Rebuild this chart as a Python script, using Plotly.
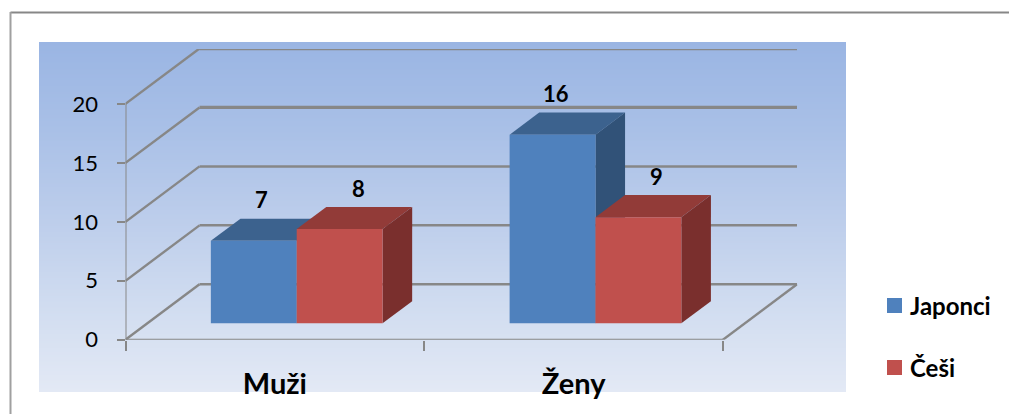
import plotly.graph_objects as go

# ---- data ----
categories = ["Muži", "Ženy"]
series_names = ["Japonci", "Češi"]
japonci = [7, 16]
cesi = [8, 9]
value_ticks = [0, 5, 10, 15, 20]
label_xshift = [[8, 3], [19, 18]]

# ---- style ----
W, H = 1009, 414
front = ["#4F81BD", "#C0504D"]
top = ["#3C628E", "#923B38"]
side = ["#315278", "#7A2F2D"]
GRID = "#878787"
FONT = "Lato, Carlito, sans-serif"
wall_width = {0: 2.5, 5: 2.5, 10: 2.5, 15: 3.2, 20: 3.6}

# geometry of the oblique projection, in axis units
PX_LEFT, PX_RIGHT, PX_BOTTOM, PX_TOP = 125.5, 797.5, 339.7, 49.0
PX_PER_CAT, PX_PER_VAL = 298.75, 11.79
DEPTH_X = 74 / PX_PER_CAT
DEPTH_Y = 55.4 / PX_PER_VAL
BAR_W = 85.85 / PX_PER_CAT
Z0, Z1 = 0.295, 0.695


def proj(x, v, z):
    return x + z * DEPTH_X, v + z * DEPTH_Y


fig = go.Figure()

# background gradient (first subplot, so it stays beneath everything)
rows = list(range(350))
fig.add_trace(go.Heatmap(
    x=[0, 1], y=rows, z=[[r, r] for r in rows], xaxis="x", yaxis="y",
    showscale=False, hoverinfo="skip", zmin=0, zmax=349,
    colorscale=[[0, "#E3E9F5"], [0.25, "#D0DCF0"], [0.5, "#BCCDEB"], [0.75, "#A9C0E7"], [1, "#9AB5E3"]],
))


def line(xs, ys, width):
    fig.add_trace(go.Scatter(x=xs, y=ys, mode="lines", xaxis="x2", yaxis="y2", showlegend=False,
                             hoverinfo="skip", zorder=0, line=dict(color=GRID, width=width)))


n_cat = len(categories)
for v in value_ticks:
    x0, y0 = proj(0, v, 0)
    x1, y1 = proj(0, v, 1)
    x2, y2 = proj(n_cat, v, 1)
    line([x0, x1], [y0, y1], 2.4)
    line([x1, x2], [y1, y2], wall_width[v])
# axis lines and the floor's right edge
line([0, 0], [0, value_ticks[-1]], 2)
line([0, n_cat], [0, 0], 2)
xa, ya = proj(n_cat, 0, 0)
xb, yb = proj(n_cat, 0, 1)
line([xa, xb], [ya, yb], 2.4)

# bars
base = Z0 * DEPTH_Y
annotations = []
for s, (name, vals) in enumerate(zip(series_names, [japonci, cesi])):
    xs = [c + 0.5 + Z0 * DEPTH_X + (s - 1) * BAR_W + BAR_W / 2 for c in range(n_cat)]
    for c, v in enumerate(vals):
        l, r = xs[c] - BAR_W / 2, xs[c] + BAR_W / 2
        dx = (Z1 - Z0) * DEPTH_X
        dy = (Z1 - Z0) * DEPTH_Y
        t = base + v
        fig.add_trace(go.Scatter(
            x=[l, r, r + dx, l + dx, l], y=[t, t, t + dy, t + dy, t], fill="toself", mode="lines",
            line=dict(width=0, color=top[s]), fillcolor=top[s], xaxis="x2", yaxis="y2",
            showlegend=False, hoverinfo="skip", zorder=s + 1))
        fig.add_trace(go.Scatter(
            x=[r, r + dx, r + dx, r, r], y=[base, base + dy, t + dy, t, base], fill="toself", mode="lines",
            line=dict(width=0, color=side[s]), fillcolor=side[s], xaxis="x2", yaxis="y2",
            showlegend=False, hoverinfo="skip", zorder=s + 1))
        annotations.append(dict(
            x=xs[c], y=t, xref="x2", yref="y2", text=f"<b>{v}</b>", showarrow=False,
            xshift=label_xshift[s][c], yshift=41, font=dict(family=FONT, size=22, color="black"),
            xanchor="center", yanchor="middle"))
    fig.add_trace(go.Bar(
        x=xs, y=vals, base=[base] * n_cat, width=BAR_W, name=name, marker=dict(color=front[s], line=dict(width=0)),
        xaxis="x2", yaxis="y2", showlegend=False, zorder=3))

# hand-placed legend (swatch and label spacing of the reference)
shapes = []
for s, (name, cy) in enumerate(zip(series_names, [305.5, 367.5])):
    shapes.append(dict(type="rect", xref="paper", yref="paper", x0=887 / W, x1=902 / W,
                       y0=1 - (cy - 7.5) / H, y1=1 - (cy + 7.5) / H, fillcolor=front[s], line=dict(width=0)))
    annotations.append(dict(x=908 / W, y=1 - cy / H, xref="paper", yref="paper", text=f"<b>{name}</b>",
                            showarrow=False, xanchor="left", yanchor="middle",
                            font=dict(family=FONT, size=24, color="black")))

# outer frame
shapes.append(dict(type="line", xref="paper", yref="paper", x0=10.5 / W, x1=1, y0=1 - 12.5 / H, y1=1 - 12.5 / H,
                   line=dict(color="#878787", width=2)))
shapes.append(dict(type="line", xref="paper", yref="paper", x0=10.5 / W, x1=10.5 / W, y0=1 - 12 / H, y1=0,
                   line=dict(color="#A0A0A0", width=2)))

fig.update_layout(
    width=W, height=H, autosize=False, margin=dict(l=0, r=0, t=0, b=0, pad=0),
    paper_bgcolor="white", plot_bgcolor="rgba(0,0,0,0)", barmode="overlay", showlegend=False,
    shapes=shapes, annotations=annotations,
    xaxis=dict(domain=[39 / W, 846 / W], range=[0, 1], visible=False, fixedrange=True, automargin=False),
    yaxis=dict(domain=[1 - 392 / H, 1 - 42 / H], range=[-0.5, 349.5], visible=False, fixedrange=True, automargin=False),
    xaxis2=dict(
        domain=[PX_LEFT / W, PX_RIGHT / W], range=[0, (PX_RIGHT - PX_LEFT) / PX_PER_CAT], anchor="y2",
        automargin=False,
        tickmode="array", tickvals=[c + 0.5 for c in range(n_cat)], ticktext=[f"<b>{c}</b>" for c in categories],
        ticks="", showgrid=False, zeroline=False, showline=False, ticklabelstandoff=24,
        tickfont=dict(family=FONT, size=29, color="black"),
        minor=dict(tickmode="array", tickvals=list(range(n_cat + 1)), ticks="outside", ticklen=10, tickwidth=1.5,
                   tickcolor=GRID, showgrid=False),
    ),
    yaxis2=dict(
        domain=[1 - PX_BOTTOM / H, 1 - PX_TOP / H], range=[0, (PX_BOTTOM - PX_TOP) / PX_PER_VAL], anchor="x2",
        automargin=False,
        tickmode="array", tickvals=value_ticks, ticks="outside", ticklen=8, tickwidth=1.5, tickcolor=GRID,
        showgrid=False, zeroline=False, showline=False, ticklabelstandoff=14,
        tickfont=dict(family=FONT, size=22, color="black"),
    ),
)

fig.write_html("out.html", post_script="document.body.style.margin='0';",
               config={"displayModeBar": False})
